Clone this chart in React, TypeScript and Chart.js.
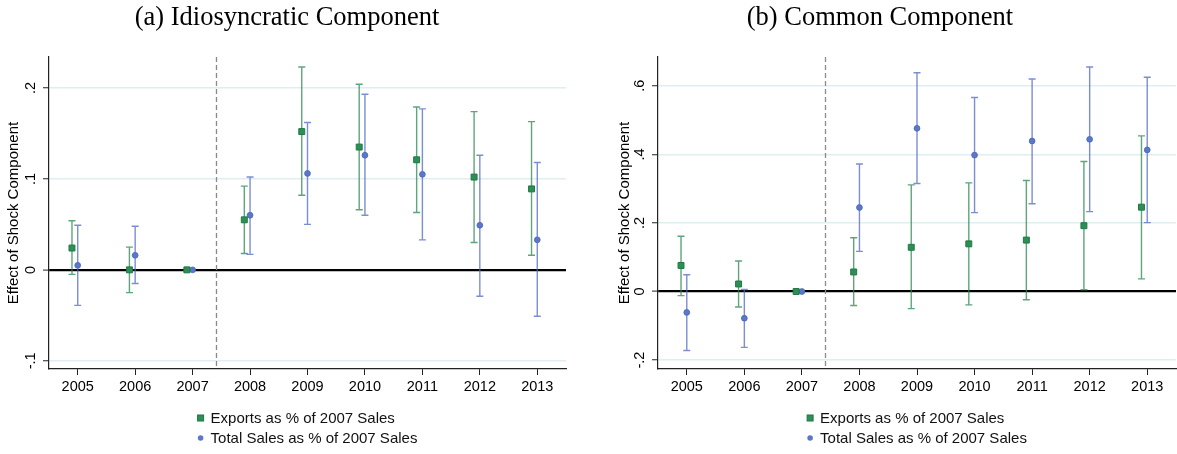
import React, { useEffect, useRef } from "react";
import { Chart, registerables } from "chart.js";

Chart.register(...registerables);

// ---------- data ----------
const years = [2005, 2006, 2007, 2008, 2009, 2010, 2011, 2012, 2013];

// (a) Idiosyncratic component
const exportsIdioCoef = [0.024, 0.0, 0.0, 0.055, 0.152, 0.135, 0.121, 0.102, 0.089];
const exportsIdioLo = [-0.005, -0.025, null, 0.018, 0.082, 0.066, 0.063, 0.03, 0.016];
const exportsIdioHi = [0.054, 0.025, null, 0.092, 0.223, 0.204, 0.179, 0.174, 0.163];
const salesIdioCoef = [0.005, 0.016, 0.0, 0.06, 0.106, 0.126, 0.105, 0.049, 0.033];
const salesIdioLo = [-0.039, -0.015, null, 0.017, 0.05, 0.06, 0.033, -0.029, -0.051];
const salesIdioHi = [0.049, 0.048, null, 0.102, 0.162, 0.193, 0.177, 0.126, 0.118];

// (b) Common component
const exportsComCoef = [0.076, 0.022, 0.0, 0.057, 0.129, 0.139, 0.15, 0.192, 0.246];
const exportsComLo = [-0.012, -0.045, null, -0.041, -0.05, -0.039, -0.024, 0.005, 0.037];
const exportsComHi = [0.161, 0.089, null, 0.157, 0.311, 0.317, 0.324, 0.379, 0.454];
const salesComCoef = [-0.061, -0.078, 0.0, 0.245, 0.476, 0.398, 0.439, 0.444, 0.413];
const salesComLo = [-0.172, -0.163, null, 0.117, 0.315, 0.23, 0.256, 0.233, 0.201];
const salesComHi = [0.049, 0.006, null, 0.372, 0.638, 0.566, 0.62, 0.655, 0.625];

const idioYTicks = [-0.1, 0, 0.1, 0.2];
const idioYTickLabels = ["-.1", "0", ".1", ".2"];
const comYTicks = [-0.2, 0, 0.2, 0.4, 0.6];
const comYTickLabels = ["-.2", "0", ".2", ".4", ".6"];

const seriesLabels = ["Exports as % of 2007 Sales", "Total Sales as % of 2007 Sales"];
const panelTitles = ["(a) Idiosyncratic Component", "(b) Common Component"];
const yAxisTitle = "Effect of Shock Component";
const treatmentLine = 2007.4;
const exportsOffset = -0.1;

// ---------- styles ----------
const GREEN = "#2e8e55";
const GREEN_DARK = "#1e7a42";
const GREEN_BAR = "rgba(40,135,80,0.75)";
const BLUE = "#5b77c9";
const BLUE_DARK = "#4a65b8";
const BLUE_BAR = "rgba(80,104,195,0.75)";
const SANS = "'Liberation Sans', Arial, sans-serif";
const SERIF = "'Liberation Serif', 'Times New Roman', serif";

const refLinePlugin = {
  id: "refLine",
  beforeDatasetsDraw(chart: any) {
    const { ctx, chartArea, scales } = chart;
    const px = Math.round(scales.x.getPixelForValue(treatmentLine)) + 0.5;
    ctx.save();
    ctx.strokeStyle = "#8a8a8a";
    ctx.lineWidth = 1.3;
    ctx.setLineDash([5, 3]);
    ctx.beginPath();
    ctx.moveTo(px, chartArea.top);
    ctx.lineTo(px, chartArea.bottom);
    ctx.stroke();
    ctx.restore();
  },
};

const errorBarPlugin = {
  id: "errorBars",
  beforeDatasetsDraw(chart: any) {
    const { ctx, scales } = chart;
    const x = scales.x;
    const y = scales.y;
    chart.data.datasets.forEach((ds: any) => {
      ctx.save();
      ctx.strokeStyle = ds.errColor;
      ctx.lineWidth = 1.4;
      ds.data.forEach((pt: any, j: number) => {
        const lo = ds.errLo[j];
        const hi = ds.errHi[j];
        if (lo == null || hi == null) return;
        const px = x.getPixelForValue(pt.x);
        const pl = y.getPixelForValue(lo);
        const ph = y.getPixelForValue(hi);
        ctx.beginPath();
        ctx.moveTo(px, pl);
        ctx.lineTo(px, ph);
        ctx.moveTo(px - 3.5, pl);
        ctx.lineTo(px + 3.5, pl);
        ctx.moveTo(px - 3.5, ph);
        ctx.lineTo(px + 3.5, ph);
        ctx.stroke();
      });
      ctx.restore();
    });
  },
};

const legendPlugin = {
  id: "stackedLegend",
  afterDraw(chart: any) {
    const { ctx, chartArea } = chart;
    ctx.save();
    ctx.font = `15px ${SANS}`;
    const ds = chart.data.datasets;
    const maxW = Math.max(...ds.map((d: any) => ctx.measureText(d.label).width));
    const blockW = 13 + maxW;
    const left = (chartArea.left + chartArea.right) / 2 - blockW / 2;
    ds.forEach((d: any, i: number) => {
      const yy = chartArea.bottom + 49 + i * 20;
      const mx = left + 3;
      ctx.fillStyle = d.backgroundColor;
      ctx.strokeStyle = d.borderColor;
      ctx.lineWidth = 1;
      if (d.pointStyle === "rect") {
        ctx.fillRect(mx - 3, yy - 3, 6, 6);
        ctx.strokeRect(mx - 3, yy - 3, 6, 6);
      } else {
        ctx.beginPath();
        ctx.arc(mx, yy, 2.8, 0, Math.PI * 2);
        ctx.fill();
      }
      ctx.fillStyle = "#111";
      ctx.textBaseline = "middle";
      ctx.textAlign = "left";
      ctx.fillText(d.label, left + 13, yy + 0.5);
    });
    ctx.restore();
  },
};

type PanelCfg = {
  title: string;
  expCoef: number[];
  expLo: (number | null)[];
  expHi: (number | null)[];
  salCoef: number[];
  salLo: (number | null)[];
  salHi: (number | null)[];
  yMin: number;
  yMax: number;
  yTicks: number[];
  yLabels: string[];
  left: number;
  width: number;
  padLeft: number;
  padRight: number;
  axisWidth: number;
  yTitlePad: number;
};

const panels: PanelCfg[] = [
  {
    title: panelTitles[0],
    expCoef: exportsIdioCoef,
    expLo: exportsIdioLo,
    expHi: exportsIdioHi,
    salCoef: salesIdioCoef,
    salLo: salesIdioLo,
    salHi: salesIdioHi,
    yMin: -0.109,
    yMax: 0.234,
    yTicks: idioYTicks,
    yLabels: idioYTickLabels,
    left: 0,
    width: 590,
    padLeft: 8,
    padRight: 24,
    axisWidth: 41,
    yTitlePad: 0,
  },
  {
    title: panelTitles[1],
    expCoef: exportsComCoef,
    expLo: exportsComLo,
    expHi: exportsComHi,
    salCoef: salesComCoef,
    salLo: salesComLo,
    salHi: salesComHi,
    yMin: -0.226,
    yMax: 0.684,
    yTicks: comYTicks,
    yLabels: comYTickLabels,
    left: 584,
    width: 593,
    padLeft: 0,
    padRight: 1,
    axisWidth: 74,
    yTitlePad: 35,
  },
];

function Panel({ cfg }: { cfg: PanelCfg }) {
  const ref = useRef<HTMLCanvasElement>(null);
  useEffect(() => {
    const canvas = ref.current!;
    const chart = new Chart(canvas, {
      type: "scatter",
      data: {
        datasets: [
          {
            label: seriesLabels[0],
            data: years.map((yr, i) => ({ x: yr + exportsOffset, y: cfg.expCoef[i] })),
            pointStyle: "rect",
            pointRadius: 4.2,
            backgroundColor: GREEN,
            borderColor: GREEN_DARK,
            borderWidth: 1,
            showLine: false,
            errLo: cfg.expLo,
            errHi: cfg.expHi,
            errColor: GREEN_BAR,
          } as any,
          {
            label: seriesLabels[1],
            data: years.map((yr, i) => ({ x: yr, y: cfg.salCoef[i] })),
            pointStyle: "circle",
            pointRadius: 2.9,
            backgroundColor: BLUE,
            borderColor: BLUE_DARK,
            borderWidth: 0.8,
            showLine: false,
            errLo: cfg.salLo,
            errHi: cfg.salHi,
            errColor: BLUE_BAR,
          } as any,
        ],
      },
      options: {
        responsive: false,
        animation: false,
        devicePixelRatio: 1,
        events: [],
        layout: {
          autoPadding: false,
          padding: { left: cfg.padLeft, right: cfg.padRight, top: 0, bottom: 55 },
        },
        plugins: {
          legend: { display: false },
          tooltip: { enabled: false },
          title: {
            display: true,
            text: cfg.title,
            color: "#000",
            font: { family: SERIF, size: 26.5, weight: "normal" },
            padding: { top: 2, bottom: 23.2 },
          },
        },
        scales: {
          x: {
            type: "linear",
            min: 2004.5,
            max: 2013.5,
            afterBuildTicks: (s: any) => {
              s.ticks = years.map((v) => ({ value: v }));
            },
            afterFit: (s: any) => {
              s.height = 30;
              s.paddingLeft = 0;
              s.paddingRight = 0;
            },
            grid: {
              drawOnChartArea: false,
              drawTicks: true,
              tickLength: 6,
              tickColor: "#222",
              tickWidth: 1,
            },
            border: { display: true, color: "#222", width: 1.2 },
            ticks: {
              autoSkip: false,
              minRotation: 0,
              maxRotation: 0,
              padding: 3,
              color: "#000",
              font: { family: SANS, size: 14.5 },
              callback: (v: any) => String(v),
            },
          },
          y: {
            type: "linear",
            min: cfg.yMin,
            max: cfg.yMax,
            afterBuildTicks: (s: any) => {
              s.ticks = cfg.yTicks.map((v) => ({ value: v }));
            },
            afterFit: (s: any) => {
              s.width = cfg.axisWidth;
              s.paddingTop = 0;
              s.paddingBottom = 0;
            },
            grid: {
              drawTicks: true,
              tickLength: 6,
              tickColor: "#222",
              tickWidth: 1,
              color: (c: any) => (c.tick && c.tick.value === 0 ? "#000" : "#e2edf1"),
              lineWidth: (c: any) => (c.tick && c.tick.value === 0 ? 2.2 : 1.5),
            },
            border: { display: true, color: "#222", width: 1.2 },
            ticks: {
              autoSkip: false,
              minRotation: 90,
              maxRotation: 90,
              crossAlign: "center",
              padding: 3.5,
              color: "#000",
              font: { family: SANS, size: 14.5 },
              callback: (_v: any, i: number) => cfg.yLabels[i],
            },
            title: {
              display: true,
              text: yAxisTitle,
              color: "#000",
              font: { family: SANS, size: 15, lineHeight: 0.8 },
              padding: { top: cfg.yTitlePad, bottom: 0 },
            },
          },
        },
      } as any,
      plugins: [refLinePlugin, errorBarPlugin, legendPlugin],
    });
    return () => chart.destroy();
  }, [cfg]);
  return (
    <canvas
      ref={ref}
      width={cfg.width}
      height={454}
      style={{ position: "absolute", left: cfg.left, top: 0, width: cfg.width, height: 454 }}
    />
  );
}

export default function App() {
  return (
    <div
      style={{
        position: "absolute",
        left: 0,
        top: 0,
        width: 1177,
        height: 454,
        background: "#fff",
        overflow: "hidden",
      }}
    >
      {panels.map((p, i) => (
        <Panel key={i} cfg={p} />
      ))}
    </div>
  );
}
